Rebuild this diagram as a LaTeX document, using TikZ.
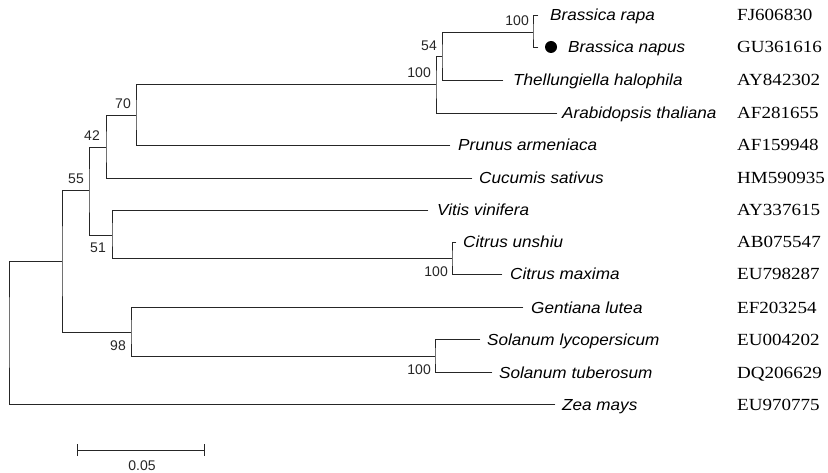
\documentclass[tikz,border=0pt]{standalone}
\usepackage{fontspec}
\setmainfont{Liberation Sans}
\newfontfamily\spfont[FakeStretch=1.07]{Liberation Sans}
\newfontfamily\accfont[FakeStretch=1.12]{Liberation Serif}
\usetikzlibrary{arrows.meta}
\begin{document}
\begin{tikzpicture}[x=1pt,y=-1pt,
  br/.style={line width=0.9pt, draw=black!85, line cap=rect},
  sp/.style={anchor=base west, inner sep=0pt, font=\spfont\itshape\fontsize{16}{18}\selectfont},
  acc/.style={anchor=base west, inner sep=0pt, font=\accfont\fontsize{17}{19}\selectfont},
  bs/.style={inner sep=0pt, font=\fontsize{14}{16}\selectfont, text=black!85},
  bsup/.style={bs, anchor=south east},
  bsdn/.style={bs, anchor=north east}]
\useasboundingbox (0,0) rectangle (828,473);
% internal nodes
\coordinate (root) at (9,332);
\coordinate (nA) at (62,261);
\coordinate (n55) at (89,190);
\coordinate (n42) at (106,147);
\coordinate (n70) at (136,115);
\coordinate (n100a) at (436,84);
\coordinate (n54) at (442,56);
\coordinate (nbr) at (533,32);
\coordinate (n51) at (112,235);
\coordinate (ncit) at (452,258);
\coordinate (n98) at (131,332);
\coordinate (nsol) at (435,356);
% leaf tips
\coordinate (tRapa) at (538,15);
\coordinate (tNapus) at (538,47);
\coordinate (tThel) at (503,80);
\coordinate (tArab) at (557,113);
\coordinate (tPrun) at (450,145);
\coordinate (tCucu) at (472,178);
\coordinate (tViti) at (428,210);
\coordinate (tUnsh) at (456,242);
\coordinate (tMaxi) at (502,274);
\coordinate (tGent) at (523,307);
\coordinate (tLyco) at (480,339);
\coordinate (tTube) at (492,372);
\coordinate (tZea) at (555,404);
% branches
\draw[br] (nA) -| (root) |- (tZea);
\draw[br] (n55) -| (nA) |- (n98);
\draw[br] (n42) -| (n55) |- (n51);
\draw[br] (n70) -| (n42) |- (tCucu);
\draw[br] (n100a) -| (n70) |- (tPrun);
\draw[br] (n54) -| (n100a) |- (tArab);
\draw[br] (nbr) -| (n54) |- (tThel);
\draw[br] (tRapa) -| (nbr) |- (tNapus);
\draw[br] (tViti) -| (n51) |- (ncit);
\draw[br] (tUnsh) -| (ncit) |- (tMaxi);
\draw[br] (tGent) -| (n98) |- (nsol);
\draw[br] (tLyco) -| (nsol) |- (tTube);
% marker
\node[circle, fill=black, inner sep=0pt, minimum size=12pt] (dot) at (551,47) {};
% species names
\node[sp] (sRapa) at (550,21) {Brassica rapa};
\node[sp] (sNapus) at (568,53) {Brassica napus};
\node[sp] (sThel) at (513,86) {Thellungiella halophila};
\node[sp] (sArab) at (562,119) {Arabidopsis thaliana};
\node[sp] (sPrun) at (458,151) {Prunus armeniaca};
\node[sp] (sCucu) at (479,184) {Cucumis sativus};
\node[sp] (sViti) at (437,216) {Vitis vinifera};
\node[sp] (sUnsh) at (463,248) {Citrus unshiu};
\node[sp] (sMaxi) at (510,280) {Citrus maxima};
\node[sp] (sGent) at (531,313) {Gentiana lutea};
\node[sp] (sLyco) at (487,345) {Solanum lycopersicum};
\node[sp] (sTube) at (499,378) {Solanum tuberosum};
\node[sp] (sZea) at (562,410) {Zea mays};
% accessions
\node[acc] (aRapa) at (737,21) {FJ606830};
\node[acc] (aNapus) at (737,53) {GU361616};
\node[acc] (aThel) at (737,86) {AY842302};
\node[acc] (aArab) at (737,119) {AF281655};
\node[acc] (aPrun) at (737,151) {AF159948};
\node[acc] (aCucu) at (737,184) {HM590935};
\node[acc] (aViti) at (737,216) {AY337615};
\node[acc] (aUnsh) at (737,248) {AB075547};
\node[acc] (aMaxi) at (737,280) {EU798287};
\node[acc] (aGent) at (737,313) {EF203254};
\node[acc] (aLyco) at (737,345) {EU004202};
\node[acc] (aTube) at (737,378) {DQ206629};
\node[acc] (aZea) at (737,410) {EU970775};
% bootstrap values
\node[bsup] (bBr) at (529,26) {100};
\node[bsup] (b54) at (437,51) {54};
\node[bsup] (b100a) at (431,78) {100};
\node[bsup] (b70) at (131,109) {70};
\node[bsup] (b42) at (100,141) {42};
\node[bsup] (b55) at (84,184) {55};
\node[bsdn] (b51) at (106,243) {51};
\node[bsdn] (bCit) at (448,267) {100};
\node[bsdn] (b98) at (126,341) {98};
\node[bsdn] (bSol) at (431,365) {100};
% scale bar
\coordinate (sbL) at (77,450);
\coordinate (sbR) at (205,450);
\draw[line width=0.9pt, draw=black!85, {Bar[width=12pt]}-{Bar[width=12pt]}] (sbL) -- (sbR);
\node[bs] (sbLab) at (142,466) {0.05};
\end{tikzpicture}
\end{document}
